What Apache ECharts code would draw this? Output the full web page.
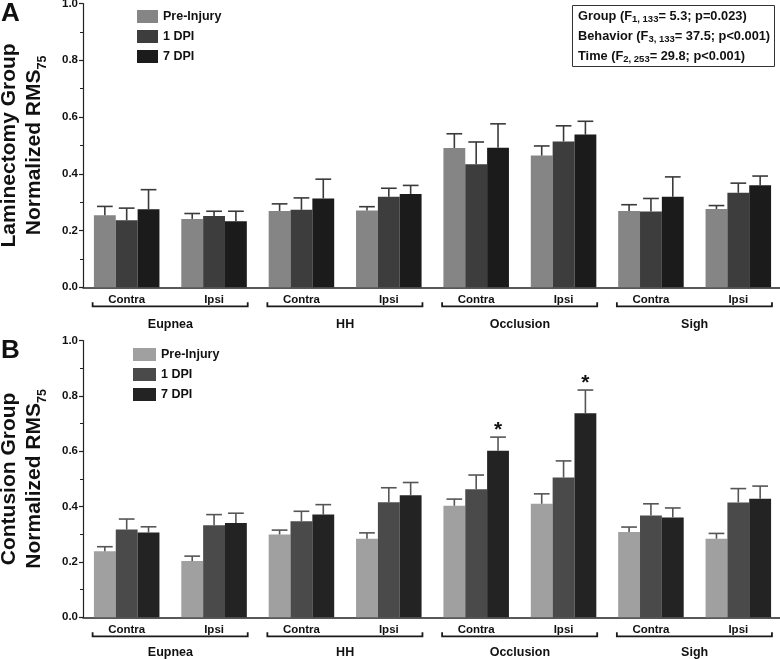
<!DOCTYPE html>
<html>
<head>
<meta charset="utf-8">
<script src="https://cdn.jsdelivr.net/npm/echarts@6/dist/echarts.min.js"></script>
<style>html,body{margin:0;padding:0;background:#fff}#c{width:780px;height:659px}</style>
</head>
<body>
<div id="c"></div>
<script>
// ---- data ----
const categories = ['Contra','Ipsi','Contra','Ipsi','Contra','Ipsi','Contra','Ipsi'];
const groups = ['Eupnea','HH','Occlusion','Sigh'];
const groupSpans = [[0,1],[2,3],[4,5],[6,7]];
const seriesNames = ['Pre-Injury','1 DPI','7 DPI'];
const yTicks = [0, 0.2, 0.4, 0.6, 0.8, 1.0];

// Panel A: Laminectomy
const preA   = [0.254, 0.241, 0.269, 0.271, 0.491, 0.464, 0.269, 0.276];
const preAerr= [0.031, 0.019, 0.025, 0.013, 0.050, 0.034, 0.022, 0.012];
const d1A    = [0.236, 0.251, 0.273, 0.319, 0.434, 0.514, 0.267, 0.333];
const d1Aerr = [0.043, 0.017, 0.042, 0.030, 0.078, 0.055, 0.046, 0.034];
const d7A    = [0.275, 0.233, 0.313, 0.329, 0.492, 0.538, 0.319, 0.360];
const d7Aerr = [0.069, 0.035, 0.068, 0.030, 0.084, 0.047, 0.070, 0.032];

// Panel B: Contusion
const preB   = [0.239, 0.203, 0.299, 0.284, 0.403, 0.410, 0.308, 0.284];
const preBerr= [0.016, 0.018, 0.016, 0.021, 0.024, 0.036, 0.018, 0.019];
const d1B    = [0.317, 0.333, 0.347, 0.416, 0.463, 0.505, 0.368, 0.415];
const d1Berr = [0.038, 0.038, 0.036, 0.052, 0.051, 0.060, 0.042, 0.050];
const d7B    = [0.306, 0.341, 0.371, 0.441, 0.602, 0.737, 0.361, 0.428];
const d7Berr = [0.021, 0.035, 0.036, 0.046, 0.049, 0.084, 0.034, 0.046];
const starsB = [4, 5]; // 7 DPI significant

const FONT = "'Liberation Sans', Arial, Helvetica, sans-serif";
const colorsA = ['#858585', '#3d3d3d', '#1b1b1b'];
const colorsB = ['#a0a0a0', '#4a4a4a', '#232323'];
const errColA = '#3a3a3a';
const errColB = '#555555';
const BARW = 0.25;

const chart = echarts.init(document.getElementById('c'), null, {renderer: 'canvas'});

function barSeries(prefix, idx, vals, colors, gi) {
  return {
    type: 'bar', name: prefix + seriesNames[idx], data: vals,
    xAxisIndex: gi * 2, yAxisIndex: gi,
    barWidth: (BARW * 100) + '%', barGap: '0%',
    itemStyle: {color: colors[idx]}, z: 2, silent: true
  };
}
function errSeries(idx, vals, errs, col, gi) {
  return {
    type: 'custom', xAxisIndex: gi * 2, yAxisIndex: gi, z: 3, silent: true, clip: false,
    data: vals.map((v, i) => [i, v, v + errs[i]]),
    renderItem: function (params, api) {
      const band = api.size([1, 0])[0];
      const off = (idx - 1) * band * BARW;
      const p0 = api.coord([api.value(0), api.value(1)]);
      const p1 = api.coord([api.value(0), api.value(2)]);
      const x = p0[0] + off;
      const hw = band * BARW * 0.36;
      return {type: 'group', children: [
        {type: 'line', shape: {x1: x, y1: p0[1], x2: x, y2: p1[1]}, style: {stroke: col, lineWidth: 1.6}},
        {type: 'line', shape: {x1: x - hw, y1: p1[1], x2: x + hw, y2: p1[1]}, style: {stroke: col, lineWidth: 1.6}}
      ]};
    }
  };
}
function bracketSeries(gi) {
  return {
    type: 'custom', xAxisIndex: gi * 2, yAxisIndex: gi, z: 3, silent: true, clip: false,
    data: groupSpans,
    renderItem: function (params, api) {
      const band = api.size([1, 0])[0];
      const a = api.coord([api.value(0), 0]);
      const b = api.coord([api.value(1), 0]);
      const x0 = a[0] - band * 0.39, x1 = b[0] + band * 0.385, y = a[1] + 19;
      return {type: 'polyline', shape: {points: [[x0, y - 4], [x0, y], [x1, y], [x1, y - 4]]},
        style: {stroke: '#1a1a1a', lineWidth: 1.8, fill: null}};
    }
  };
}
function starSeries(vals, errs, gi) {
  return {
    type: 'custom', xAxisIndex: gi * 2, yAxisIndex: gi, z: 4, silent: true, clip: false,
    data: starsB.map(i => [i, vals[i] + errs[i]]),
    renderItem: function (params, api) {
      const band = api.size([1, 0])[0];
      const p = api.coord([api.value(0), api.value(1)]);
      return {type: 'text', style: {text: '*', x: p[0] + band * BARW, y: p[1] - 7,
        align: 'center', verticalAlign: 'middle', font: 'bold 21px ' + FONT, fill: '#111'}};
    }
  };
}

function yAxis(gi, name) {
  return {
    type: 'value', gridIndex: gi, min: 0, max: 1, interval: 0.2,
    name: name, nameLocation: 'middle', nameRotate: 90, nameGap: 36,
    nameTextStyle: {fontFamily: FONT, fontSize: 21, fontWeight: 'bold', color: '#111', lineHeight: 25,
      rich: {sub: {fontFamily: FONT, fontSize: 12.5, fontWeight: 'bold', color: '#111', lineHeight: 25, verticalAlign: 'bottom', padding: [0, 0, -2, 0]}}},
    axisLine: {show: true, lineStyle: {color: '#222', width: 1.2}},
    axisTick: {show: true, length: 4, lineStyle: {color: '#222', width: 1.2}},
    minorTick: {show: true, splitNumber: 2, length: 3, lineStyle: {color: '#222', width: 1}},
    splitLine: {show: false},
    axisLabel: {margin: 5, fontFamily: FONT, fontSize: 11.5, fontWeight: 'bold', color: '#111',
      formatter: v => (yTicks.some(t => Math.abs(t - v) < 1e-9) ? v.toFixed(1) : '')}
  };
}
function xAxes(gi, groupMargin) {
  return [
    {type: 'category', gridIndex: gi, data: categories, position: 'bottom',
      axisLine: {show: true, onZero: false, lineStyle: {color: '#222', width: 1.5}},
      axisTick: {show: false},
      axisLabel: {margin: 7, fontFamily: FONT, fontSize: 11.5, fontWeight: 'bold', color: '#111', interval: 0}},
    {type: 'category', gridIndex: gi, data: groups, position: 'bottom',
      axisLine: {show: false}, axisTick: {show: false}, splitLine: {show: false},
      axisLabel: {margin: groupMargin, fontFamily: FONT, fontSize: 12.5, fontWeight: 'bold', color: '#111', interval: 0}}
  ];
}
function legend(prefix, left, top, w) {
  return {
    orient: 'vertical', left: left, top: top, itemWidth: w, itemHeight: 13, itemGap: 7, icon: 'rect',
    selectedMode: false, padding: 0,
    data: seriesNames.map(n => prefix + n),
    formatter: n => n.replace(/^[AB]:/, ''),
    textStyle: {fontFamily: FONT, fontSize: 12.5, fontWeight: 'bold', color: '#111', lineHeight: 13}
  };
}

const statsRich = {
  a: {fontFamily: FONT, fontSize: 12.8, fontWeight: 'bold', color: '#111', lineHeight: 20},
  s: {fontFamily: FONT, fontSize: 9.5, fontWeight: 'bold', color: '#111', lineHeight: 20, padding: [6, 0, 0, 0]}
};
const statsText = [
  '{a|Group (F}{s|1, 133}{a|= 5.3; p=0.023)}',
  '{a|Behavior (F}{s|3, 133}{a|= 37.5; p<0.001)}',
  '{a|Time (F}{s|2, 253}{a|= 29.8; p<0.001)}'
].join('\n');

const option = {
  animation: false,
  backgroundColor: '#fff',
  title: [
    {text: 'A', left: 1, top: 1, padding: 0, textStyle: {fontFamily: FONT, fontSize: 26, fontWeight: 'bold', color: '#111'}},
    {text: 'B', left: 1, top: 338, padding: 0, textStyle: {fontFamily: FONT, fontSize: 26, fontWeight: 'bold', color: '#111'}},
    {text: statsText, left: 572, top: 3, padding: [3, 5, 3, 6], borderWidth: 1, borderColor: '#333',
      textStyle: {rich: statsRich}}
  ],
  legend: [legend('A:', 137, 10, 21), legend('B:', 133, 348, 23)],
  grid: [
    {left: 83, right: -2, top: 3.5, bottom: 659 - 287.3, containLabel: false, outerBoundsMode: 'none'},
    {left: 83, right: -2, top: 340.5, bottom: 659 - 617.3, containLabel: false, outerBoundsMode: 'none'}
  ],
  xAxis: [...xAxes(0, 31), ...xAxes(1, 29)],
  yAxis: [
    yAxis(0, 'Laminectomy Group\nNormalized RMS{sub|75}'),
    yAxis(1, 'Contusion Group\nNormalized RMS{sub|75}')
  ],
  series: [
    barSeries('A:', 0, preA, colorsA, 0),
    barSeries('A:', 1, d1A, colorsA, 0),
    barSeries('A:', 2, d7A, colorsA, 0),
    errSeries(0, preA, preAerr, errColA, 0),
    errSeries(1, d1A, d1Aerr, errColA, 0),
    errSeries(2, d7A, d7Aerr, errColA, 0),
    bracketSeries(0),
    barSeries('B:', 0, preB, colorsB, 1),
    barSeries('B:', 1, d1B, colorsB, 1),
    barSeries('B:', 2, d7B, colorsB, 1),
    errSeries(0, preB, preBerr, errColB, 1),
    errSeries(1, d1B, d1Berr, errColB, 1),
    errSeries(2, d7B, d7Berr, errColB, 1),
    bracketSeries(1),
    starSeries(d7B, d7Berr, 1)
  ]
};
chart.setOption(option);
</script>
</body>
</html>
